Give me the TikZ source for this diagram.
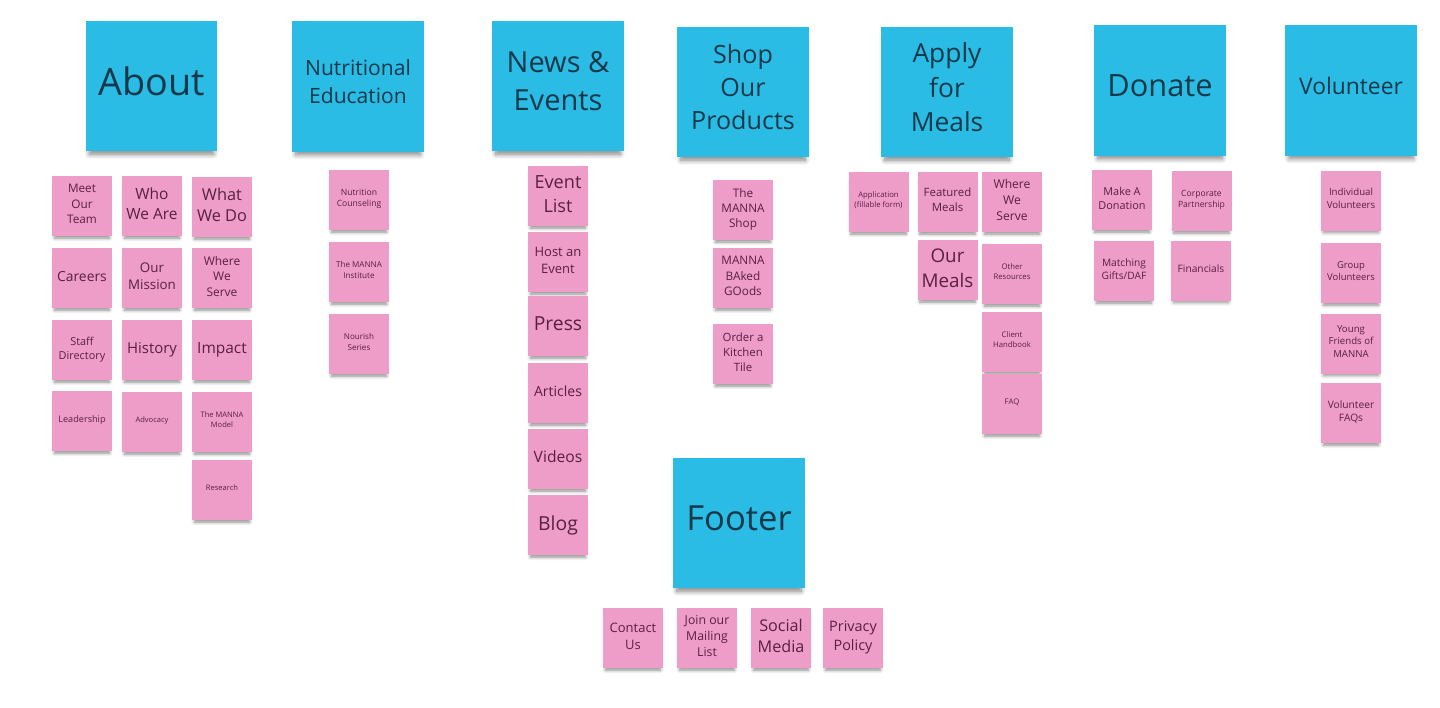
\documentclass[tikz,border=0pt]{standalone}
\usepackage{fontspec}
\setmainfont{Open Sans}
\usetikzlibrary{shadows.blur}

\definecolor{notecyan}{HTML}{2BBCE5}
\definecolor{notepink}{HTML}{EE9DC9}
\definecolor{inkcyan}{HTML}{15394A}
\definecolor{inkpink}{HTML}{5A1F42}

\begin{document}
\begin{tikzpicture}[x=0.02cm, y=-0.02cm,
    fs/.style={font=\fontsize{#1pt}{\dimexpr#1pt*13/10\relax}\selectfont},
    lift/.style={execute at end node={\rule[-#1]{0pt}{0pt}}},
    topic/.style={fill=notecyan, text=inkcyan, minimum width=2.64cm, minimum height=2.62cm,
        align=center, inner sep=0pt, lift=0.2cm,
        blur shadow={shadow xshift=0pt, shadow yshift=-4pt, shadow scale=0.94, shadow opacity=50,
            shadow blur radius=3pt, shadow blur steps=8}},
    page/.style={fill=notepink, text=inkpink, minimum size=1.2cm,
        align=center, inner sep=1pt, lift=0.08cm,
        blur shadow={shadow xshift=0pt, shadow yshift=-2.8pt, shadow scale=0.92, shadow opacity=45,
            shadow blur radius=2pt, shadow blur steps=6}}]
    % Coordinates are pixels of the board, y grows downwards.
    \useasboundingbox (0,0) rectangle (1440,707);

    % Top level topics
    \node[topic, fs=21.5] (about)     at (151.5,86) {About};
    \node[topic, fs=12]   (nutrition) at (358,86.5) {Nutritional\\Education};
    \node[topic, fs=16.5] (news)      at (558,86)   {News \&\\Events};
    \node[topic, fs=14.3] (shop)      at (743,92)   {Shop\\Our\\Products};
    \node[topic, fs=15]   (apply)     at (947,92)   {Apply\\for\\Meals};
    \node[topic, fs=17.5] (donate)    at (1160,90.5) {Donate};
    \node[topic, fs=13]   (volunteer) at (1351,90.5) {Volunteer};
    \node[topic, fs=19.7] (footer)    at (739,523)  {Footer};

    % About
    \node[page, fs=6.7] (aboutTeam)     at (82,206)  {Meet\\Our\\Team};
    \node[page, fs=7.9] (aboutCareers)  at (82,278)  {Careers};
    \node[page, fs=6.2] (aboutStaff)    at (82,350)  {Staff\\Directory};
    \node[page, fs=5.2] (aboutLeaders)  at (82,421)  {Leadership};
    \node[page, fs=8.8] (aboutWho)      at (152,206) {Who\\We Are};
    \node[page, fs=7.6] (aboutMission)  at (152,278) {Our\\Mission};
    \node[page, fs=8.5] (aboutHistory)  at (152,350) {History};
    \node[page, fs=4.3] (aboutAdvocacy) at (152,422) {Advocacy};
    \node[page, fs=9.3] (aboutWhat)     at (222,207) {What\\We Do};
    \node[page, fs=6.8] (aboutWhere)    at (222,278) {Where\\We\\Serve};
    \node[page, fs=8.8] (aboutImpact)   at (222,350) {Impact};
    \node[page, fs=4.3] (aboutModel)    at (222,422) {The MANNA\\Model};
    \node[page, fs=4.3] (aboutResearch) at (222,490) {Research};

    % Nutritional Education
    \node[page, fs=4.9] (nutriCounsel)   at (359,200) {Nutrition\\Counseling};
    \node[page, fs=4.6] (nutriInstitute) at (359,272) {The MANNA\\Institute};
    \node[page, fs=4.6] (nutriNourish)   at (359,344) {Nourish\\Series};

    % News & Events
    \node[page, fs=10.3] (newsList)     at (558,196) {Event\\List};
    \node[page, fs=7.4]  (newsHost)     at (558,262) {Host an\\Event};
    \node[page, fs=11]   (newsPress)    at (558,326) {Press};
    \node[page, fs=8]    (newsArticles) at (558,393) {Articles};
    \node[page, fs=8.9]  (newsVideos)   at (558,459) {Videos};
    \node[page, fs=11]   (newsBlog)     at (558,525) {Blog};

    % Shop Our Products
    \node[page, fs=6.7] (shopStore) at (743,210) {The\\MANNA\\Shop};
    \node[page, fs=6.7] (shopBaked) at (743,278) {MANNA\\BAked\\GOods};
    \node[page, fs=6.5] (shopTile)  at (743,354) {Order a\\Kitchen\\Tile};

    % Apply for Meals
    \node[page, fs=4.4]  (applyForm)      at (878.5,202) {Application\\(fillable form)};
    \node[page, fs=6.5]  (applyFeatured)  at (947.5,202) {Featured\\Meals};
    \node[page, fs=10.7] (applyOurMeals)  at (947.5,270) {Our\\Meals};
    \node[page, fs=6.9]  (applyWhere)     at (1012,202)  {Where\\We\\Serve};
    \node[page, fs=4.4]  (applyResources) at (1012,274)  {Other\\Resources};
    \node[page, fs=4.4]  (applyHandbook)  at (1012,342)  {Client\\Handbook};
    \node[page, fs=4.4]  (applyFAQ)       at (1012,404)  {FAQ};

    % Donate
    \node[page, fs=6.2] (donateGift)      at (1122,200)   {Make A\\Donation};
    \node[page, fs=4.9] (donateCorporate) at (1201.5,201) {Corporate\\Partnership};
    \node[page, fs=5.8] (donateMatching)  at (1124,271)   {Matching\\Gifts/DAF};
    \node[page, fs=5.8] (donateFinance)   at (1201,270.5) {Financials};

    % Volunteer
    \node[page, fs=5.5] (volIndividual) at (1351,200.5) {Individual\\Volunteers};
    \node[page, fs=5.4] (volGroup)      at (1351,273)   {Group\\Volunteers};
    \node[page, fs=5.5] (volYoung)      at (1351,343.5) {Young\\Friends of\\MANNA};
    \node[page, fs=5.8] (volFAQ)        at (1351,413)   {Volunteer\\FAQs};

    % Footer
    \node[page, fs=7.4] (footContact) at (633,638) {Contact\\Us};
    \node[page, fs=7]   (footMailing) at (707,638) {Join our\\Mailing\\List};
    \node[page, fs=9.2] (footSocial)  at (781,638) {Social\\Media};
    \node[page, fs=8.2] (footPrivacy) at (853,638) {Privacy\\Policy};
\end{tikzpicture}
\end{document}
